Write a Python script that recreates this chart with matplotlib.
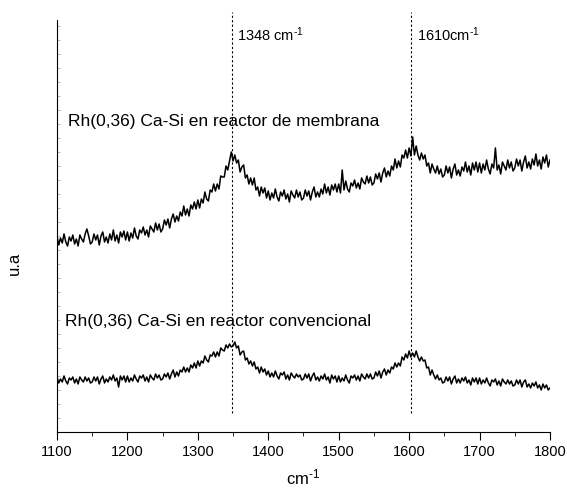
import numpy as np
import matplotlib
matplotlib.use('Agg')
import matplotlib.pyplot as plt

plt.rcParams['font.family'] = ['Liberation Sans', 'DejaVu Sans']
plt.rcParams['mathtext.fontset'] = 'custom'
plt.rcParams['mathtext.rm'] = 'Liberation Sans'
plt.rcParams['mathtext.it'] = 'Liberation Sans:italic'

# Raman shift axis (cm-1), one reading every 2.5 cm-1
shift = np.arange(1100, 1800.1, 2.5)

# membrane reactor spectrum (arbitrary units)
membrana = [196, 187, 194, 189, 198, 190, 186, 195, 191, 197, 188, 193, 186, 197, 193, 190, 198, 203, 196, 188,
            190, 198, 192, 197, 187, 196, 200, 190, 195, 189, 198, 192, 202, 191, 197, 189, 200, 195, 201, 192,
            200, 191, 199, 194, 204, 196, 193, 202, 199, 205, 197, 202, 195, 206, 203, 200, 209, 202, 208, 200,
            203, 212, 207, 213, 204, 213, 218, 210, 216, 211, 220, 216, 226, 217, 223, 216, 227, 223, 230, 223,
            232, 224, 233, 229, 240, 233, 231, 242, 240, 248, 241, 248, 243, 256, 255, 255, 266, 262, 271, 280,
            271, 277, 269, 272, 260, 265, 267, 254, 257, 248, 254, 247, 254, 242, 245, 236, 245, 239, 244, 234,
            241, 232, 239, 234, 243, 235, 231, 240, 236, 242, 233, 238, 230, 241, 237, 234, 242, 235, 240, 232,
            234, 242, 236, 241, 232, 240, 245, 235, 240, 235, 243, 238, 248, 239, 245, 237, 247, 242, 248, 240,
            248, 239, 262, 242, 251, 243, 240, 249, 246, 252, 244, 249, 243, 254, 250, 248, 256, 249, 255, 247,
            249, 258, 253, 259, 250, 259, 264, 255, 261, 256, 266, 262, 273, 264, 271, 265, 277, 274, 282, 274,
            284, 276, 295, 277, 286, 277, 272, 279, 273, 277, 266, 269, 259, 268, 263, 259, 266, 258, 263, 255,
            257, 266, 259, 265, 254, 263, 268, 257, 262, 256, 265, 261, 270, 260, 266, 257, 269, 262, 270, 260,
            269, 259, 268, 262, 272, 263, 258, 268, 264, 284, 262, 267, 258, 270, 266, 262, 272, 264, 270, 261,
            264, 273, 266, 272, 261, 270, 276, 264, 270, 263, 273, 267, 278, 266, 272, 263, 275, 269, 277, 265,
            272]

# conventional reactor spectrum
convencional = [55, 49, 53, 50, 56, 51, 48, 54, 52, 55, 49, 53, 48, 55, 52, 50, 55, 51, 54, 49,
                50, 55, 51, 55, 48, 53, 56, 49, 53, 50, 55, 52, 57, 51, 54, 45, 56, 52, 56, 50,
                56, 50, 54, 51, 57, 53, 50, 56, 54, 57, 51, 55, 50, 57, 54, 52, 58, 54, 57, 52,
                53, 58, 55, 59, 53, 58, 62, 55, 60, 56, 62, 60, 65, 60, 64, 60, 67, 64, 69, 64,
                71, 66, 71, 69, 76, 72, 70, 77, 76, 80, 75, 80, 76, 84, 82, 81, 87, 84, 88, 85,
                86, 90, 84, 86, 77, 80, 81, 72, 74, 68, 71, 66, 70, 63, 65, 59, 65, 60, 63, 57,
                61, 55, 59, 55, 61, 56, 53, 59, 57, 60, 53, 57, 52, 59, 56, 54, 58, 55, 57, 52,
                53, 58, 54, 58, 51, 56, 59, 52, 55, 51, 56, 53, 58, 52, 55, 49, 57, 53, 56, 50,
                56, 50, 54, 51, 57, 52, 49, 56, 54, 57, 52, 56, 51, 58, 55, 53, 58, 54, 58, 53,
                54, 60, 56, 61, 54, 60, 63, 57, 62, 59, 65, 63, 69, 65, 69, 66, 75, 72, 78, 74,
                81, 75, 79, 75, 81, 75, 71, 75, 71, 72, 64, 65, 57, 62, 57, 53, 57, 52, 54, 49,
                50, 55, 51, 55, 48, 53, 56, 49, 53, 49, 54, 51, 55, 49, 52, 47, 54, 50, 54, 48,
                54, 48, 52, 49, 54, 49, 46, 52, 50, 53, 47, 51, 46, 53, 50, 48, 52, 48, 51, 46,
                47, 52, 48, 52, 45, 50, 52, 45, 48, 44, 49, 46, 50, 44, 47, 42, 48, 44, 47, 42,
                44]

peaks = [1348, 1603]

fig = plt.figure(figsize=(5.67, 4.95), dpi=100)
ax = fig.add_axes([0.1005, 0.1273, 0.8695, 0.8323])

ax.plot(shift, membrana, color='black', linewidth=1.1)
ax.plot(shift, convencional, color='black', linewidth=1.1)

for p in peaks:
    ax.plot([p, p], [19, 420], color='black', linestyle=(0, (2, 2)),
            linewidth=0.8, clip_on=False)

ax.set_xlim(1100, 1800)
ax.set_ylim(0, 412)

ax.text(1355, 397, r'1348 cm$^{\text{-}1}$', fontsize=10.5, va='center')
ax.text(1611, 397, r'1610cm$^{\text{-}1}$', fontsize=10.5, va='center')
ax.text(1115, 310, 'Rh(0,36) Ca-Si en reactor de membrana', fontsize=12.5, va='center')
ax.text(1111, 110, 'Rh(0,36) Ca-Si en reactor convencional', fontsize=12.5, va='center')

ax.spines['top'].set_visible(False)
ax.spines['right'].set_visible(False)

ax.set_xticks(range(1100, 1801, 100))
ax.set_xticks(range(1150, 1800, 100), minor=True)
ax.tick_params(axis='x', which='major', direction='out', length=6, labelsize=10.5)
ax.tick_params(axis='x', which='minor', direction='out', length=3)

ax.set_yticks(np.arange(0, 412, 14))
ax.tick_params(axis='y', direction='in', length=2, width=0.5, colors='#999999',
               labelleft=False)

ax.set_xlabel(r'cm$^{\text{-}1}$', fontsize=12, labelpad=6)
ax.set_ylabel('u.a', fontsize=12)
ax.yaxis.set_label_coords(-0.071, 0.41)

plt.savefig('out.png', dpi=100)
